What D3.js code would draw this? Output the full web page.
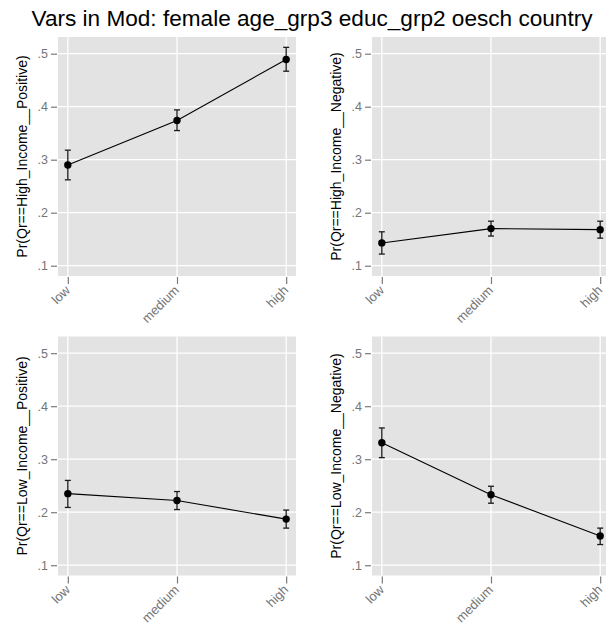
<!DOCTYPE html>
<html>
<head>
<meta charset="utf-8">
<script src="https://cdn.jsdelivr.net/npm/d3@7"></script>
<style>
  html, body { margin: 0; padding: 0; background: #fff; }
  svg { display: block; font-family: "Liberation Sans", Arial, Helvetica, sans-serif; }
</style>
</head>
<body>
<svg id="chart" width="606" height="628"></svg>
<script>
// Education levels on the x axis
const categories = ["low", "medium", "high"];

// Predicted probabilities with 95% confidence bounds, one panel per outcome
const panelTitles = [
  "Pr(Qr==High_Income__Positive)",
  "Pr(Qr==High_Income__Negative)",
  "Pr(Qr==Low_Income__Positive)",
  "Pr(Qr==Low_Income__Negative)"
];
const estimates = [
  [0.290, 0.374, 0.489],
  [0.143, 0.170, 0.168],
  [0.235, 0.222, 0.187],
  [0.331, 0.233, 0.155]
];
const lowerBounds = [
  [0.262, 0.355, 0.467],
  [0.122, 0.156, 0.152],
  [0.209, 0.205, 0.170],
  [0.303, 0.217, 0.139]
];
const upperBounds = [
  [0.318, 0.394, 0.512],
  [0.164, 0.184, 0.184],
  [0.260, 0.239, 0.204],
  [0.359, 0.249, 0.170]
];

// Y tick values and labels
const yTicks = [0.1, 0.2, 0.3, 0.4, 0.5];
const yTickLabels = [".1", ".2", ".3", ".4", ".5"];

const titleText = "Vars in Mod: female age_grp3 educ_grp2 oesch country";

const svg = d3.select("#chart");

// Overall title
svg.append("text")
  .attr("x", 312)
  .attr("y", 26)
  .attr("text-anchor", "middle")
  .attr("font-size", 22.6)
  .attr("fill", "#000")
  .text(titleText);

// Panel layout
const panelW = 238, panelH = 239;
const colX = [58, 372];
const rowY = [37, 336.5];
const yDomain = [0.0806, 0.5315];

panelTitles.forEach((title, i) => {
  const px = colX[i % 2];
  const py = rowY[Math.floor(i / 2)];

  const x = d3.scalePoint().domain(categories).range([px, px + panelW]).padding(0.09);
  const y = d3.scaleLinear().domain(yDomain).range([py + panelH, py]);

  const g = svg.append("g");

  // Plot background
  g.append("rect")
    .attr("x", px).attr("y", py)
    .attr("width", panelW).attr("height", panelH)
    .attr("fill", "#e3e3e3");

  // Grid lines
  g.selectAll(".hgrid").data(yTicks).join("line")
    .attr("x1", px).attr("x2", px + panelW)
    .attr("y1", d => y(d)).attr("y2", d => y(d))
    .attr("stroke", "#fff").attr("stroke-width", 1.3);
  g.selectAll(".vgrid").data(categories).join("line")
    .attr("x1", d => x(d)).attr("x2", d => x(d))
    .attr("y1", py).attr("y2", py + panelH)
    .attr("stroke", "#fff").attr("stroke-width", 1.3);

  // Y axis
  const yAxis = d3.axisLeft(y)
    .tickValues(yTicks)
    .tickFormat((d, k) => yTickLabels[k])
    .tickSize(6)
    .tickPadding(3);
  const ya = g.append("g")
    .attr("transform", `translate(${px - 1},0)`)
    .call(yAxis);
  ya.select(".domain").remove();
  ya.selectAll(".tick line").attr("stroke", "#7a7a7a").attr("stroke-width", 1.2);
  ya.selectAll(".tick text")
    .attr("fill", "#757575")
    .attr("font-size", 12.5)
    .attr("font-family", "Liberation Sans, Arial, sans-serif");

  // X axis
  const xAxis = d3.axisBottom(x).tickSize(7).tickPadding(3);
  const xa = g.append("g")
    .attr("transform", `translate(0,${py + panelH + 1})`)
    .call(xAxis);
  xa.select(".domain").remove();
  xa.selectAll(".tick line").attr("stroke", "#7a7a7a").attr("stroke-width", 1.2);
  xa.selectAll(".tick text")
    .attr("fill", "#757575")
    .attr("font-size", 13)
    .attr("font-family", "Liberation Sans, Arial, sans-serif")
    .attr("text-anchor", "end")
    .attr("dy", null)
    .attr("y", 0)
    .attr("transform", "translate(2.5,14) rotate(-45)");

  // Y axis title
  g.append("text")
    .attr("transform", `translate(${px - 31},${py + panelH / 2}) rotate(-90)`)
    .attr("text-anchor", "middle")
    .attr("font-size", 14)
    .attr("fill", "#000")
    .text(title);

  const rows = categories.map((c, k) => ({
    c, v: estimates[i][k], lo: lowerBounds[i][k], hi: upperBounds[i][k]
  }));

  // Connecting line
  g.append("path")
    .datum(rows)
    .attr("fill", "none")
    .attr("stroke", "#000")
    .attr("stroke-width", 1.1)
    .attr("d", d3.line().x(d => x(d.c)).y(d => y(d.v)));

  // Confidence intervals
  const ci = g.selectAll(".ci").data(rows).join("g").attr("stroke", "#1a1a1a").attr("stroke-width", 1.3);
  ci.append("line")
    .attr("x1", d => x(d.c)).attr("x2", d => x(d.c))
    .attr("y1", d => y(d.lo)).attr("y2", d => y(d.hi));
  ci.append("line")
    .attr("x1", d => x(d.c) - 3).attr("x2", d => x(d.c) + 3)
    .attr("y1", d => y(d.lo)).attr("y2", d => y(d.lo));
  ci.append("line")
    .attr("x1", d => x(d.c) - 3).attr("x2", d => x(d.c) + 3)
    .attr("y1", d => y(d.hi)).attr("y2", d => y(d.hi));

  // Point estimates
  g.selectAll(".pt").data(rows).join("circle")
    .attr("cx", d => x(d.c)).attr("cy", d => y(d.v))
    .attr("r", 3.7)
    .attr("fill", "#000");
});
</script>
</body>
</html>
